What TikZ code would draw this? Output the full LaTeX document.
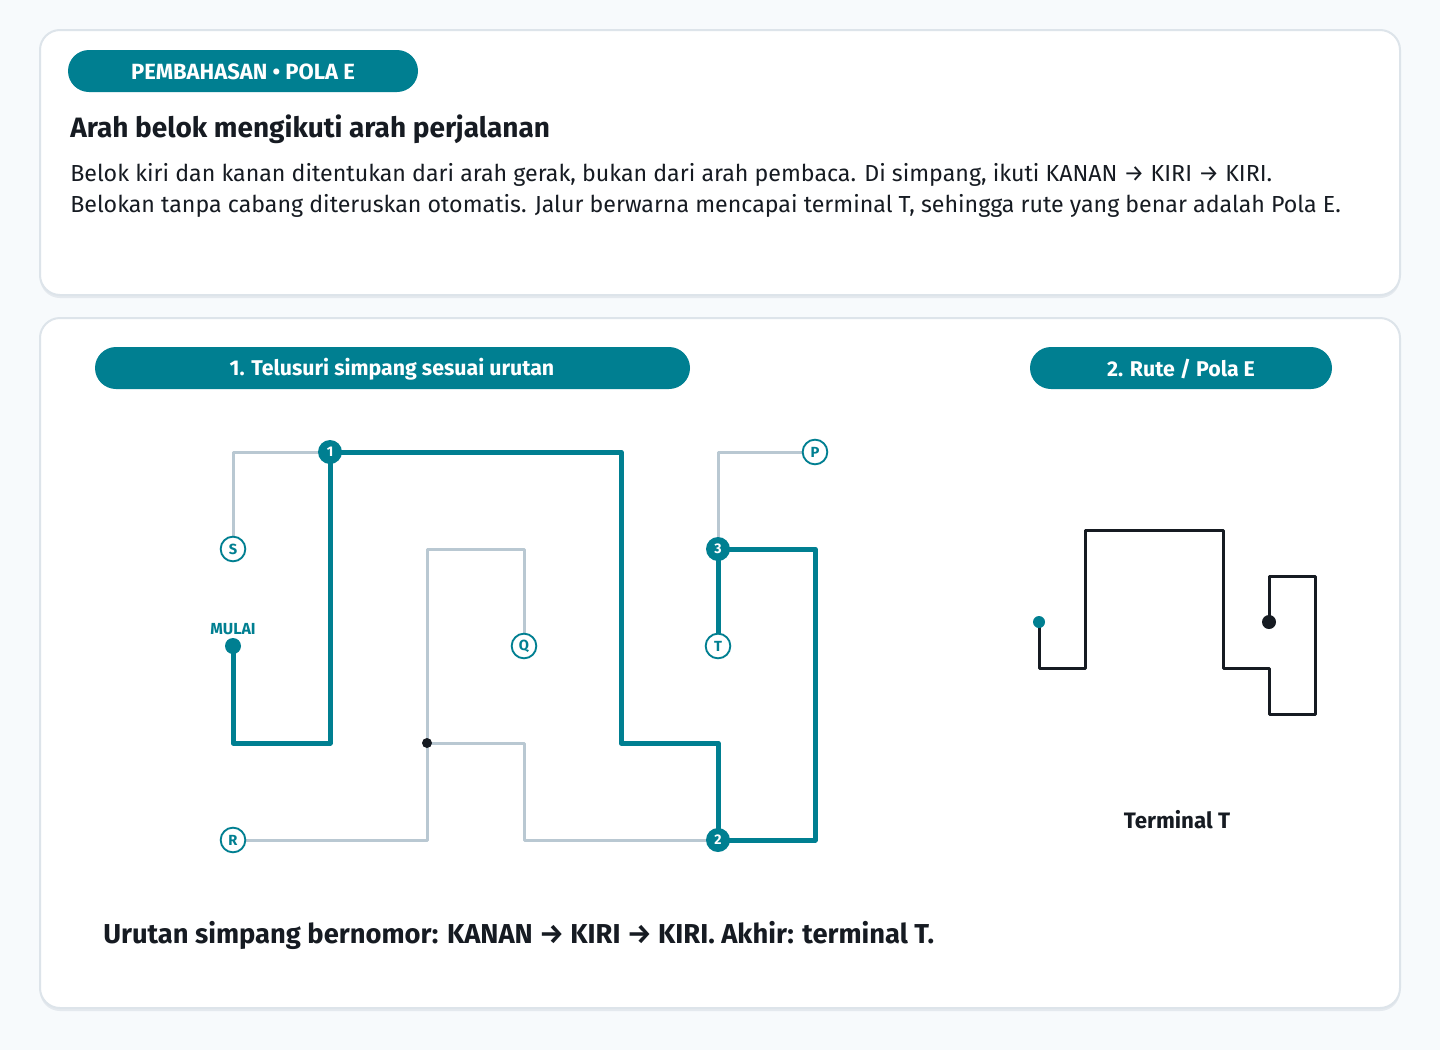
\documentclass[tikz,border=0pt]{standalone}
\usepackage{fontspec}
\setmainfont{Fira Sans}
\definecolor{teal}{HTML}{007F91}
\definecolor{pale}{HTML}{B9C8D2}
\definecolor{ink}{HTML}{161B22}
\definecolor{page}{HTML}{F7FAFC}
\definecolor{rim}{HTML}{DDE4EA}
\tikzset{
  card/.style={fill=white, draw=rim, line width=1.5pt, rounded corners=15pt},
  shade/.style={fill=rim!80, rounded corners=15pt},
  pill/.style={fill=teal, rounded corners=15.75pt},
  pilltext/.style={text=white, font=\bfseries\fontsize{16}{19}\selectfont},
  bodytext/.style={anchor=base west, inner sep=0pt, text=ink, font=\fontsize{17.4}{21}\selectfont},
  route/.style={teal, line width=3.75pt, line join=round, line cap=round},
  spare/.style={pale, line width=2.25pt, line join=round, line cap=round},
  trace/.style={ink, line width=2.25pt, line join=round},
  term/.style={circle, draw=teal, line width=1.4pt, fill=white, minimum size=18.5pt, inner sep=0pt, text=teal, font=\bfseries\fontsize{11}{11}\selectfont},
  junc/.style={circle, fill=teal, minimum size=18pt, inner sep=0pt, text=white, font=\bfseries\fontsize{10.5}{11}\selectfont}
}

\begin{document}
\begin{tikzpicture}[x=0.75pt, y=-0.75pt]
				%%%%% START %%%%%
				\fill[page] (0,0) rectangle (1440,1050);
				\useasboundingbox (0,0) rectangle (1440,1050);
				
				% cards
				\fill[shade] (40,33) rectangle (1400,298);
				\draw[card] (40,30) rectangle (1400,295);
				\fill[shade] (40,321) rectangle (1400,1011);
				\draw[card] (40,318) rectangle (1400,1008);
				
				% header
				\fill[pill] (68,50) rectangle (418,92);
				\node[pilltext, font=\bfseries\fontsize{16.5}{19}\selectfont] (tag) at (243,72) {PEMBAHASAN • POLA E};
				\node[anchor=base west, inner sep=0pt, text=ink, font=\bfseries\fontsize{21}{25}\selectfont] (title) at (70,137) {Arah belok mengikuti arah perjalanan};
				\node[bodytext] (body1) at (70,181)
				  {Belok kiri dan kanan ditentukan dari arah gerak, bukan dari arah pembaca. Di simpang, ikuti KANAN → KIRI → KIRI.};
				\node[bodytext] (body2) at (70,212)
				  {Belokan tanpa cabang diteruskan otomatis. Jalur berwarna mencapai terminal T, sehingga rute yang benar adalah Pola E.};
				
				% panel titles
				\fill[pill] (95,347) rectangle (690,389);
				\node[pilltext] (step1) at (392,369) {1. Telusuri simpang sesuai urutan};
				\fill[pill] (1030,347) rectangle (1332,389);
				\node[pilltext] (step2) at (1181,369) {2. Rute / Pola E};
				
				% grid of the maze
				\foreach \i/\x in {1/233, 2/330, 3/427, 4/524, 5/621, 6/718, 7/815}
				  \foreach \j/\y in {1/452, 2/549, 3/646, 4/743, 5/840}
				    \coordinate (g\i\j) at (\x,\y);
				
				% unused branches
				\draw[spare] (g12) -- (g11) -- (g21);
				\draw[spare] (g43) -- (g42) -- (g32) -- (g35) -- (g15);
				\draw[spare] (g34) -- (g44) -- (g45) -- (g65);
				\draw[spare] (g71) -- (g61) -- (g62);
				
				% travelled route
				\draw[route] (g13) -- (g14) -- (g24) -- (g21) -- (g51) -- (g54) -- (g64)
				  -- (g65) -- (g75) -- (g72) -- (g62) -- (g63);
				
				\fill[ink] (g34) circle (5);
				\fill[teal] (g13) circle (8);
				\node[text=teal, font=\bfseries\fontsize{12}{12}\selectfont] (start) at (233,629) {MULAI};
				
				\node[term] (S) at (g12) {S};
				\node[term] (Q) at (g43) {Q};
				\node[term] (T) at (g63) {T};
				\node[term] (P) at (g71) {P};
				\node[term] (R) at (g15) {R};
				\node[junc] (j1) at (g21) {1};
				\node[junc] (j2) at (g65) {2};
				\node[junc] (j3) at (g62) {3};
				
				% route shape
				\draw[trace] (1039,622) -- ++(0,46) -- ++(46,0) -- ++(0,-138) -- ++(138,0)
				  -- ++(0,138) -- ++(46,0) -- ++(0,46) -- ++(46,0) -- ++(0,-138)
				  -- ++(-46,0) -- ++(0,46);
				\fill[teal] (1039,622) circle (6);
				\fill[ink] (1269,622) circle (7);
				\node[text=ink, font=\bfseries\fontsize{16.75}{20}\selectfont] (endlabel) at (1177,820) {Terminal T};
				
				\node[anchor=base west, inner sep=0pt, text=ink, font=\bfseries\fontsize{20.5}{24}\selectfont] (summary) at (103,943)
				  {Urutan simpang bernomor: KANAN → KIRI → KIRI. Akhir: terminal T.};
				%%%%% END %%%%%
\end{tikzpicture}
\end{document}
